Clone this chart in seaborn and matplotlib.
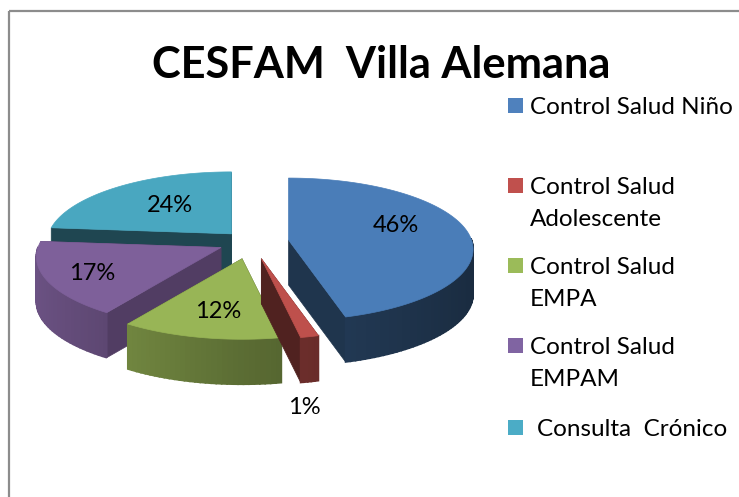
import numpy as np
import matplotlib
matplotlib.use("Agg")
import matplotlib.pyplot as plt
from matplotlib.patches import Rectangle
import seaborn as sns

categories = ["Control Salud Niño", "Control Salud\nAdolescente", "Control Salud\nEMPA",
              "Control Salud\nEMPAM", "Consulta  Crónico"]
values = [45.6, 1.4, 12.4, 17.0, 23.6]
title = "CESFAM  Villa Alemana"

colors = ["#4A7DB8", "#BE504C", "#98B556", "#7E609A", "#49A7C0"]
legend_colors = ["#4F81BD", "#C0504D", "#9BBB59", "#8064A2", "#4BACC6"]
explode = [0.207, 0.245, 0.245, 0.182, 0.158]
wall_gain = [0.82, 1, 1, 1, 1]
cut_shade = [0.42, 0.42, 0.42, 0.64, 0.42]
label_xy = [(396, 226), (304, 408), (218, 312), (92, 274), (170, 206)]
legend_y = [107, 187, 267, 347, 429]
legend_text_x = [530, 530, 530, 530, 537]
draw_order = [4, 0, 3, 2, 1]

sns.set_theme(style="white")
plt.rcParams["font.family"] = ["Lato", "DejaVu Sans"]

fig = plt.figure(figsize=(7.39, 4.97), dpi=100)
ax = fig.add_axes([0, 0, 1, 1])
ax.set_xlim(0, 739)
ax.set_ylim(497, 0)
ax.axis("off")

CX, CY, RX, RY, DEPTH, K = 251, 242, 183, 70, 45, 0.13


def project(x, y):
    s = 1 / (1 + K * y)
    return x * s * RX, -y * s * RY


def shade(rgb, f):
    return tuple(c * f for c in rgb)


fractions = np.array(values) / sum(values)
stops = np.concatenate([[0], np.cumsum(fractions)]) * 2 * np.pi

for rank, i in enumerate(draw_order):
    a0, a1 = stops[i], stops[i + 1]
    mid = (a0 + a1) / 2
    ax0 = CX + explode[i] * np.sin(mid) * RX
    ay0 = CY - explode[i] * np.cos(mid) * RY
    base = matplotlib.colors.to_rgb(colors[i])
    theta = np.linspace(a0, a1, max(6, int((a1 - a0) * 40)))
    px, py = project(np.sin(theta), np.cos(theta))
    px, py = px + ax0, py + ay0
    z = 1 + rank * 3
    # cut faces
    for ex, ey in ((px[0], py[0]), (px[-1], py[-1])):
        ax.fill([ax0, ex, ex, ax0], [ay0, ey, ey + DEPTH, ay0 + DEPTH],
                color=shade(base, cut_shade[i]), lw=0.5, zorder=z)
    # outer wall, shaded by direction; only the part facing the viewer
    for j in range(len(theta) - 1):
        m = (theta[j] + theta[j + 1]) / 2
        if np.cos(m) > 0.02:
            continue
        f = np.interp(np.sin(m), [-1, 0, 1], [0.85, 0.6, 0.42]) * wall_gain[i]
        ax.fill([px[j], px[j + 1], px[j + 1], px[j]],
                [py[j], py[j + 1], py[j + 1] + DEPTH, py[j] + DEPTH],
                facecolor=shade(base, f), edgecolor=shade(base, f), lw=1.2,
                zorder=z + 1)
    # top face
    ax.fill(np.r_[ax0, px], np.r_[ay0, py], color=base, lw=0.5, zorder=z + 2)

for v, (lx, ly) in zip(values, label_xy):
    ax.text(lx, ly, f"{v:.0f}%", ha="center", va="center", fontsize=17, color="black", zorder=40)

ax.text(381, 65, title, ha="center", va="center", fontsize=31.2, fontweight="bold", color="black")

for cat, col, y, tx in zip(categories, legend_colors, legend_y, legend_text_x):
    ax.add_patch(Rectangle((508, y - 9), 15, 15, color=col, lw=0))
    for n, line in enumerate(cat.split("\n")):
        ax.text(tx, y + n * 33, line, ha="left", va="center", fontsize=17.5, color="black")

frame = "#8C8C8C"
ax.plot([9, 9], [11, 497], color=frame, lw=1.6, solid_capstyle="butt")
ax.plot([9, 739], [11, 11], color=frame, lw=1.6, solid_capstyle="butt")

fig.savefig("out.png", dpi=100)
